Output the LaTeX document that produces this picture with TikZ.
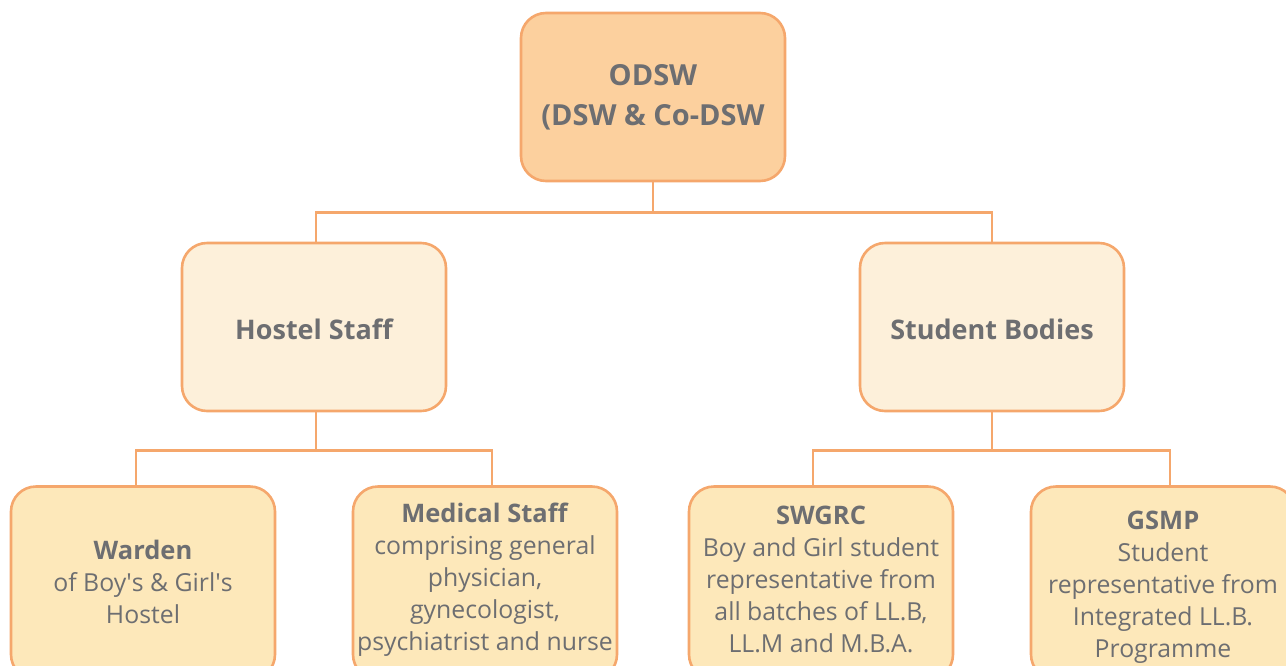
\documentclass[tikz,border=0pt]{standalone}
\usepackage{fontspec}
\setmainfont{Open Sans}
\definecolor{bord}{HTML}{F5A76C}
\definecolor{ftop}{HTML}{FCD09E}
\definecolor{fmid}{HTML}{FDF0DA}
\definecolor{fbot}{HTML}{FDE8BA}
\definecolor{txt}{HTML}{6D6E71}
\newcommand{\apo}{\textquotesingle}
\begin{document}
\begin{tikzpicture}[x=1pt,y=-1pt,
  box/.style={draw=bord,line width=2.6pt,rounded corners=25pt,minimum width=264pt,inner sep=0pt},
  tbox/.style={box,fill=ftop,minimum height=168pt},
  mbox/.style={box,fill=fmid,minimum height=168pt},
  bbox/.style={box,fill=fbot,minimum height=193pt},
  lbl/.style={text=txt,align=center,font=\fontsize{24.8}{32}\selectfont,inner sep=0pt},
  hd/.style={text=txt,align=center,font=\fontsize{27}{40}\selectfont\bfseries,inner sep=0pt},
  conn/.style={draw=bord,line width=2.6pt}]
\useasboundingbox (0,0) rectangle (1286,665);
\clip (0,0) rectangle (1286,665);
% boxes
\node[tbox] (top) at (653,97) {};
\node[mbox] (hs) at (314,327) {};
\node[mbox] (sb) at (992,327) {};
\node[bbox] (war) at (143,583) {};
\node[bbox] (med) at (485,583) {};
\node[bbox] (swg) at (821,583) {};
\node[bbox] (gsm) at (1163,583) {};
% connectors
\draw[conn] (top.south) -- ++(0,30) -| ([xshift=2pt]hs.north);
\draw[conn] (top.south) ++(0,30) -| (sb.north);
\draw[conn] ([xshift=2pt]hs.south) -- ++(0,38) -| ([xshift=-7pt]war.north);
\draw[conn] ([xshift=2pt]hs.south) ++(0,38) -| ([xshift=7pt]med.north);
\draw[conn] (sb.south) -- ++(0,38) -| ([xshift=-8pt]swg.north);
\draw[conn] (sb.south) ++(0,38) -| ([xshift=7pt]gsm.north);
% texts
\node[hd,font=\fontsize{29}{40}\selectfont\bfseries] (ttop) at (653,97) {ODSW\\(DSW \& Co-DSW};
\node[hd] (ths) at (314,329) {Hostel Staff};
\node[hd] (tsb) at (992,329) {Student Bodies};
\node[lbl] (twar) at (143,582) {\textbf{\fontsize{25.5}{32}\selectfont Warden}\\of Boy\apo s \& Girl\apo s\\Hostel};
\node[lbl] (tmed) at (485,580) {\textbf{\fontsize{25.5}{32}\selectfont Medical Staff}\\comprising general\\physician,\\gynecologist,\\psychiatrist and nurse};
\node[lbl] (tswg) at (821,579) {\textbf{\fontsize{25.5}{32}\selectfont SWGRC}\\Boy and Girl student\\representative from\\all batches of LL.B,\\LL.M and M.B.A.};
\node[lbl] (tgsm) at (1163,587) {\textbf{\fontsize{25.5}{32}\selectfont GSMP}\\Student\\representative from\\Integrated LL.B.\\Programme};
\end{tikzpicture}
\end{document}
